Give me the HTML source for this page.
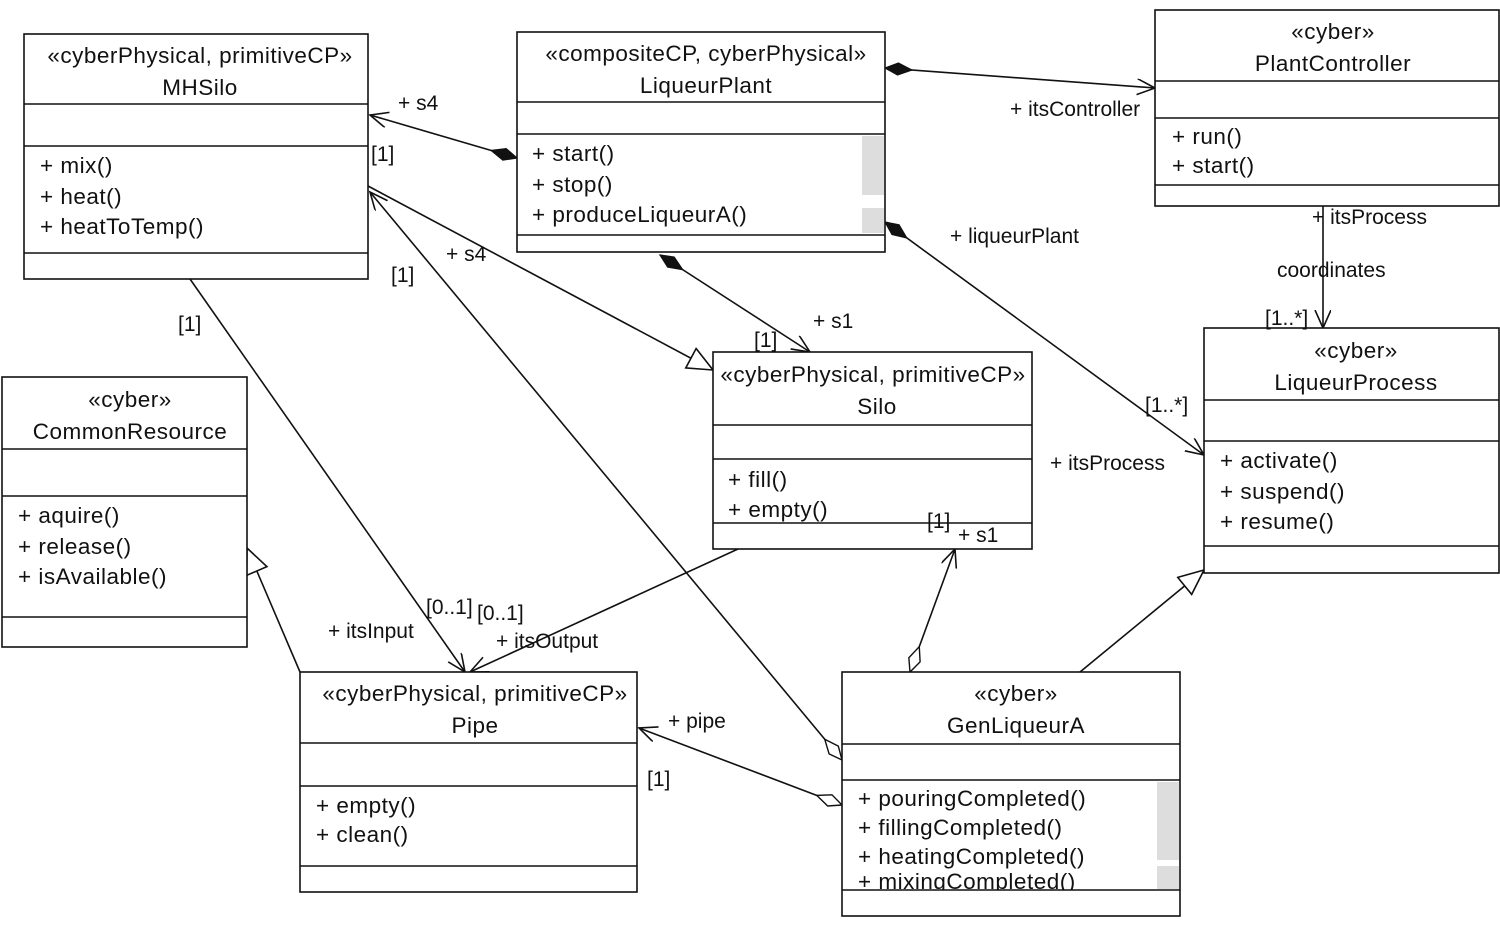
<!DOCTYPE html>
<html><head><meta charset="utf-8"><style>
html,body{margin:0;padding:0;background:#fff;}
svg text{font-family:"Liberation Sans","DejaVu Sans",sans-serif;font-size:21px;fill:#111;}
svg .c text{font-size:22.5px;letter-spacing:0.5px;}
</style></head><body>
<svg width="1500" height="927" viewBox="0 0 1500 927" xmlns="http://www.w3.org/2000/svg">
<defs>
<marker id="arr" markerWidth="20" markerHeight="20" refX="18" refY="8" orient="auto" markerUnits="userSpaceOnUse"><path d="M0,0 L18,8 L0,16" fill="none" stroke="#111" stroke-width="1.6"/></marker>
<marker id="tri" markerWidth="30" markerHeight="30" refX="26" refY="12" orient="auto" markerUnits="userSpaceOnUse"><path d="M1,1 L26,12 L1,23 Z" fill="#fff" stroke="#111" stroke-width="1.6"/></marker>
<marker id="dia" markerWidth="40" markerHeight="20" refX="1" refY="8" orient="auto" markerUnits="userSpaceOnUse"><path d="M1,8 L14,2 L28,8 L14,14 Z" fill="#111" stroke="#111" stroke-width="1.2"/></marker>
<marker id="odia" markerWidth="40" markerHeight="20" refX="1" refY="8" orient="auto" markerUnits="userSpaceOnUse"><path d="M1,8 L14,2 L28,8 L14,14 Z" fill="#fff" stroke="#111" stroke-width="1.4"/></marker>
</defs>
<g fill="none" stroke="#111" stroke-width="1.6">
<line x1="517" y1="158" x2="370" y2="115" marker-start="url(#dia)" marker-end="url(#arr)"/>
<line x1="885" y1="68" x2="1155" y2="88" marker-start="url(#dia)" marker-end="url(#arr)"/>
<line x1="885" y1="222" x2="1204" y2="455" marker-start="url(#dia)" marker-end="url(#arr)"/>
<line x1="660" y1="255" x2="810" y2="352" marker-start="url(#dia)" marker-end="url(#arr)"/>
<line x1="368" y1="186" x2="713" y2="370" marker-end="url(#tri)"/>
<line x1="190" y1="279" x2="465" y2="672" marker-end="url(#arr)"/>
<line x1="842" y1="760" x2="370" y2="192" marker-start="url(#odia)" marker-end="url(#arr)"/>
<line x1="738" y1="549" x2="470" y2="672" marker-end="url(#arr)"/>
<line x1="300" y1="672" x2="247" y2="548" marker-end="url(#tri)"/>
<line x1="910" y1="672" x2="955" y2="549" marker-start="url(#odia)" marker-end="url(#arr)"/>
<line x1="1080" y1="672" x2="1204" y2="570" marker-end="url(#tri)"/>
<line x1="842" y1="805" x2="639" y2="728" marker-start="url(#odia)" marker-end="url(#arr)"/>
<line x1="1323" y1="206" x2="1323" y2="328" marker-end="url(#arr)"/>
</g>
<g fill="#fff" stroke="#111" stroke-width="1.6">
<rect x="24" y="34" width="344" height="245"/><line x1="24" y1="104" x2="368" y2="104"/><line x1="24" y1="146" x2="368" y2="146"/><line x1="24" y1="253" x2="368" y2="253"/>
<rect x="517" y="32" width="368" height="220"/><line x1="517" y1="102" x2="885" y2="102"/><line x1="517" y1="134" x2="885" y2="134"/><line x1="517" y1="235" x2="885" y2="235"/>
<rect x="1155" y="10" width="344" height="196"/><line x1="1155" y1="81" x2="1499" y2="81"/><line x1="1155" y1="118" x2="1499" y2="118"/><line x1="1155" y1="185" x2="1499" y2="185"/>
<rect x="2" y="377" width="245" height="270"/><line x1="2" y1="449" x2="247" y2="449"/><line x1="2" y1="496" x2="247" y2="496"/><line x1="2" y1="617" x2="247" y2="617"/>
<rect x="713" y="352" width="319" height="197"/><line x1="713" y1="425" x2="1032" y2="425"/><line x1="713" y1="459" x2="1032" y2="459"/><line x1="713" y1="523" x2="1032" y2="523"/>
<rect x="1204" y="328" width="295" height="245"/><line x1="1204" y1="400" x2="1499" y2="400"/><line x1="1204" y1="441" x2="1499" y2="441"/><line x1="1204" y1="546" x2="1499" y2="546"/>
<rect x="300" y="672" width="337" height="220"/><line x1="300" y1="743" x2="637" y2="743"/><line x1="300" y1="786" x2="637" y2="786"/><line x1="300" y1="866" x2="637" y2="866"/>
<rect x="842" y="672" width="338" height="244"/><line x1="842" y1="744" x2="1180" y2="744"/><line x1="842" y1="780" x2="1180" y2="780"/><line x1="842" y1="890" x2="1180" y2="890"/>
</g>
<g fill="#ddd"><rect x="862" y="136" width="22" height="59"/><rect x="862" y="208" width="22" height="25"/><rect x="1157" y="782" width="22" height="78"/><rect x="1157" y="866" width="22" height="23"/></g>
<g class="c">
<g text-anchor="middle">
<text x="200" y="63">«cyberPhysical, primitiveCP»</text><text x="200" y="95">MHSilo</text>
<text x="706" y="61">«compositeCP, cyberPhysical»</text><text x="706" y="93">LiqueurPlant</text>
<text x="1333" y="39">«cyber»</text><text x="1333" y="71">PlantController</text>
<text x="130" y="407">«cyber»</text><text x="130" y="439">CommonResource</text>
<text x="873" y="382">«cyberPhysical, primitiveCP»</text><text x="877" y="414">Silo</text>
<text x="1356" y="358">«cyber»</text><text x="1356" y="390">LiqueurProcess</text>
<text x="475" y="701">«cyberPhysical, primitiveCP»</text><text x="475" y="733">Pipe</text>
<text x="1016" y="701">«cyber»</text><text x="1016" y="733">GenLiqueurA</text>
</g>
<text x="40" y="173">+ mix()</text><text x="40" y="204">+ heat()</text><text x="40" y="234">+ heatToTemp()</text>
<text x="532" y="161">+ start()</text><text x="532" y="192">+ stop()</text><text x="532" y="222">+ produceLiqueurA()</text>
<text x="1172" y="144">+ run()</text><text x="1172" y="173">+ start()</text>
<text x="18" y="523">+ aquire()</text><text x="18" y="554">+ release()</text><text x="18" y="584">+ isAvailable()</text>
<text x="728" y="487">+ fill()</text><text x="728" y="517">+ empty()</text>
<text x="1220" y="468">+ activate()</text><text x="1220" y="499">+ suspend()</text><text x="1220" y="529">+ resume()</text>
<text x="316" y="813">+ empty()</text><text x="316" y="842">+ clean()</text>
<text x="858" y="806">+ pouringCompleted()</text><text x="858" y="835">+ fillingCompleted()</text><text x="858" y="864">+ heatingCompleted()</text>
<svg x="842" y="868" width="315" height="22"><text x="16" y="21">+ mixingCompleted()</text></svg>
</g>
<g>
<text x="398" y="110">+ s4</text><text x="371" y="161">[1]</text>
<text x="1010" y="116">+ itsController</text>
<text x="950" y="243">+ liqueurPlant</text>
<text x="446" y="261">+ s4</text><text x="391" y="282">[1]</text>
<text x="178" y="331">[1]</text>
<text x="813" y="328">+ s1</text><text x="754" y="347">[1]</text>
<text x="1312" y="224">+ itsProcess</text>
<text x="1277" y="277">coordinates</text>
<text x="1265" y="325">[1..*]</text>
<text x="1145" y="412">[1..*]</text>
<text x="1050" y="470">+ itsProcess</text>
<text x="927" y="528">[1]</text><text x="958" y="542">+ s1</text>
<text x="426" y="614">[0..1]</text><text x="477" y="620">[0..1]</text>
<text x="328" y="638">+ itsInput</text><text x="496" y="648">+ itsOutput</text>
<text x="668" y="728">+ pipe</text><text x="647" y="786">[1]</text>
</g>
</svg>
</body></html>
